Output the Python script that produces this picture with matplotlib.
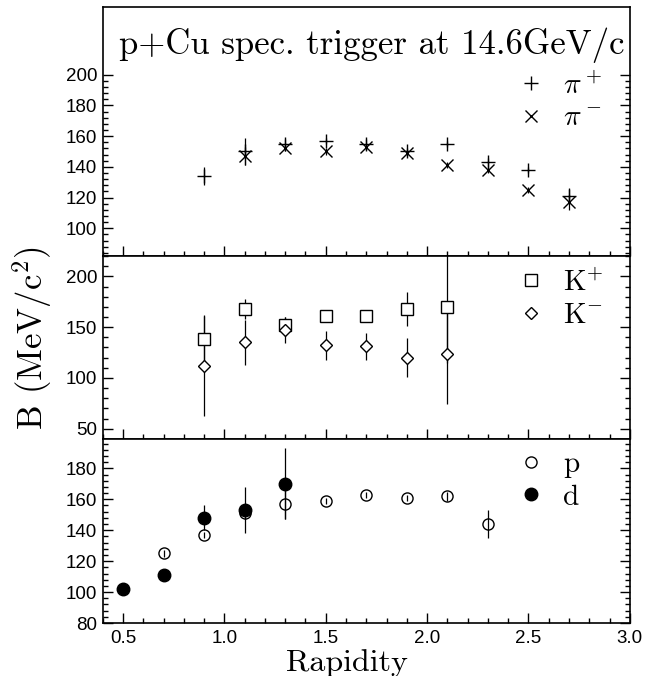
import numpy as np
import matplotlib
matplotlib.use("Agg")
import matplotlib.pyplot as plt
from matplotlib.ticker import MultipleLocator, FixedLocator, FormatStrFormatter

plt.rcParams['font.family'] = 'Liberation Sans'
plt.rcParams['mathtext.fontset'] = 'cm'

# pions
y_pi = [0.9, 1.1, 1.3, 1.5, 1.7, 1.9, 2.1, 2.3, 2.5, 2.7]
pi_plus = [134, 150, 155, 157, 155, 150, 155, 143, 138, 121]
pi_plus_err = [6, 9, 3, 2, 3, 2, 2, 3, 2, 5]
y_pim = [1.1, 1.3, 1.5, 1.7, 1.9, 2.1, 2.3, 2.5, 2.7]
pi_minus = [147, 152, 150, 153, 149, 141, 138, 125, 117]
pi_minus_err = [6, 2, 2, 2, 2, 2, 2, 2, 5]

# kaons
y_k = [0.9, 1.1, 1.3, 1.5, 1.7, 1.9, 2.1]
k_plus = [138, 168, 152, 161, 161, 168, 170]
k_plus_err = [24, 10, 8, 5, 5, 17, 55]
k_minus = [112, 135, 147, 132, 131, 120, 124]
k_minus_err = [49, 22, 13, 14, 13, 19, 50]

# protons and deuterons
y_p = [0.7, 0.9, 1.1, 1.3, 1.5, 1.7, 1.9, 2.1, 2.3]
p_val = [125, 137, 151, 157, 159, 163, 161, 162, 144]
p_err = [2, 2, 4, 10, 2, 2, 2, 3, 9]
y_d = [0.5, 0.7, 0.9, 1.1, 1.3]
d_val = [102, 111, 148, 153, 170]
d_err = [1, 4, 8, 15, 23]

serif = 'cmr10'

fig = plt.figure(figsize=(6.46, 6.76), dpi=100)

left, width = 0.159, 0.816
ax_pi = fig.add_axes([left, 0.6213, width, 0.3683])
ax_k = fig.add_axes([left, 0.3506, width, 0.2707])
ax_p = fig.add_axes([left, 0.0784, width, 0.2722])


def style_axis(ax, ylim, major, minor, show_x=False):
    ax.set_xlim(0.4, 3.0)
    ax.set_ylim(*ylim)
    ax.xaxis.set_major_locator(MultipleLocator(0.5))
    ax.xaxis.set_minor_locator(MultipleLocator(0.1))
    if isinstance(major, (list, np.ndarray)):
        ax.yaxis.set_major_locator(FixedLocator(major))
        ax.yaxis.set_minor_locator(FixedLocator(minor))
    else:
        ax.yaxis.set_major_locator(MultipleLocator(major))
        ax.yaxis.set_minor_locator(MultipleLocator(minor))
    ax.tick_params(which='both', direction='in', top=False, right=True,
                   width=1.0, labelsize=13.5, colors='black')
    ax.tick_params(which='major', length=7, pad=4)
    ax.tick_params(which='minor', length=3.5)
    if not show_x:
        ax.tick_params(axis='x', labelbottom=False)
    else:
        ax.tick_params(axis='x', pad=5)
        ax.xaxis.set_major_formatter(FormatStrFormatter('%.1f'))
    for s in ax.spines.values():
        s.set_linewidth(1.2)


def add_legend(ax, anchor):
    leg = ax.legend(loc='upper left', bbox_to_anchor=anchor, frameon=False,
                    handlelength=0.8, handletextpad=0.7, borderpad=0,
                    borderaxespad=0, labelspacing=0.2,
                    prop={'family': serif, 'size': 21})
    return leg


# pion panel: ticks only up to 200, title sits above
style_axis(ax_pi, (82, 244), np.arange(100, 201, 20), np.arange(84, 201, 4))
ax_pi.errorbar(y_pi, pi_plus, yerr=pi_plus_err, fmt='none', ecolor='black', elinewidth=0.9)
ax_pi.errorbar(y_pim, pi_minus, yerr=pi_minus_err, fmt='none', ecolor='black', elinewidth=0.9)
ax_pi.plot(y_pi, pi_plus, '+', color='black', ms=10, mew=1.0, ls='none', label=r'$\pi^+$')
ax_pi.plot(y_pim, pi_minus, 'x', color='black', ms=8, mew=1.0, ls='none', label=r'$\pi^-$')
add_legend(ax_pi, (0.79, 0.74))
ax_pi.text(0.51, 0.845, 'p+Cu spec. trigger at 14.6GeV/c', transform=ax_pi.transAxes,
           ha='center', va='center', fontsize=25, family=serif)

# kaon panel
style_axis(ax_k, (40, 220), 50, 10)
ax_k.errorbar(y_k, k_plus, yerr=k_plus_err, fmt='none', ecolor='black', elinewidth=0.9)
ax_k.errorbar(y_k, k_minus, yerr=k_minus_err, fmt='none', ecolor='black', elinewidth=0.9)
ax_k.plot(y_k, k_plus, 's', mfc='white', mec='black', ms=8, mew=1.0, ls='none', label=r'K$^{+}$')
ax_k.plot(y_k, k_minus, 'D', mfc='white', mec='black', ms=6, mew=1.0, ls='none', label=r'K$^{-}$')
add_legend(ax_k, (0.79, 0.93))

# proton / deuteron panel
style_axis(ax_p, (80, 199), 20, 4, show_x=True)
ax_p.errorbar(y_p, p_val, yerr=p_err, fmt='none', ecolor='black', elinewidth=0.9)
ax_p.errorbar(y_d, d_val, yerr=d_err, fmt='none', ecolor='black', elinewidth=0.9)
ax_p.plot(y_p, p_val, 'o', mfc='none', mec='black', ms=8, mew=1.0, ls='none', label='p')
ax_p.plot(y_d, d_val, 'o', color='black', ms=9, ls='none', label='d')
add_legend(ax_p, (0.79, 0.93))

fig.text(0.537, 0.008, 'Rapidity', ha='center', va='baseline', family=serif, fontsize=23)
fig.text(0.05, 0.50, r'B (MeV/c$^2$)', rotation=90, ha='center', va='center',
         family=serif, fontsize=25)

fig.savefig('out.png', dpi=100)
